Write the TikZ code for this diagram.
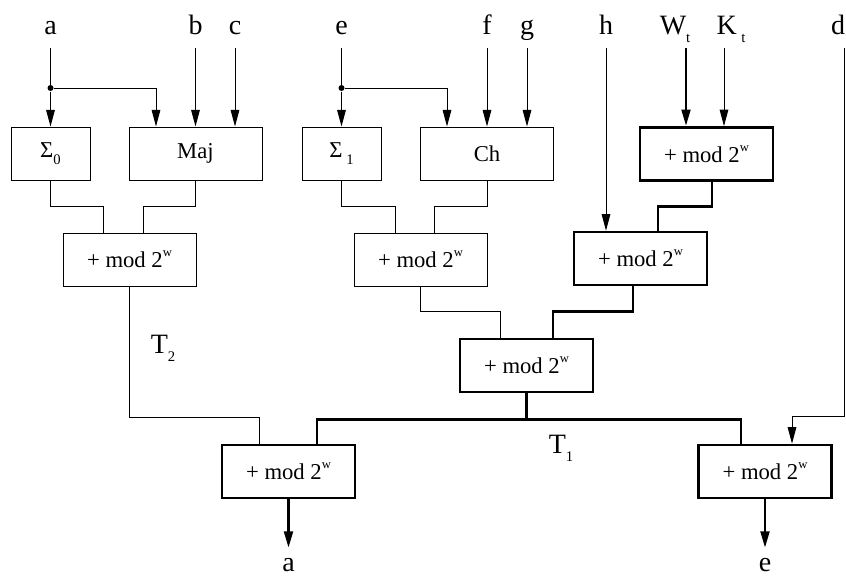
\documentclass[tikz,border=0pt]{standalone}
\usepackage{fontspec}
\setmainfont{Liberation Serif}
\usetikzlibrary{arrows.meta,calc}

\newcommand{\lowsub}[1]{\raisebox{-0.3em}{\fontsize{11}{12}\selectfont #1}}
\newcommand{\modtwo}{+ mod 2\raisebox{0.5em}{\fontsize{9.5}{10}\selectfont w}}

\tikzset{every picture/.style={line width=0.75pt}}

\begin{document}
\begin{tikzpicture}[x=0.75pt,y=0.75pt,yscale=-1,xscale=1,
    box/.style={draw, line width=0.75pt, minimum width=99.75pt, minimum height=39.75pt, inner sep=0pt, font=\fontsize{17}{20}\selectfont},
    sbox/.style={box, minimum width=59.25pt},
    hbox/.style={box, line width=2pt},
    lbl/.style={inner sep=0pt, text depth=9.75pt, anchor=south, font=\fontsize{21}{25}\selectfont},
    olbl/.style={inner sep=0pt, text height=17.5pt, text depth=0pt, anchor=north, font=\fontsize{21}{25}\selectfont},
    tlbl/.style={inner sep=0pt, anchor=base, font=\fontsize{21}{25}\selectfont},
    wire/.style={line width=0.75pt},
    hwire/.style={line width=2.2pt},
    arr/.style={-{Triangle[length=12.5pt,width=6.5pt]}},
    jdot/.style={circle, fill, inner sep=0pt, minimum size=4.5pt}]
        \useasboundingbox (0,0) rectangle (846,578);

        % inputs
        \node[lbl] (ina) at (50.5,48) {a};
        \node[lbl] (inb) at (195.5,48) {b};
        \node[lbl] (inc) at (235,48) {c};
        \node[lbl] (ine) at (341.5,48) {e};
        \node[lbl] (inf) at (487,48) {f};
        \node[lbl] (ing) at (527,48) {g};
        \node[lbl] (inh) at (606,48) {h};
        \node[lbl] (inw) at (675,48) {W\lowsub{t}};
        \node[lbl] (ink) at (731,48) {K\,\lowsub{t}};
        \node[lbl] (ind) at (838,48) {d};

        % boxes
        \node[sbox] (sig0) at (50.5,153.5) {Σ\lowsub{0}};
        \node[box] (maj) at (195.5,153.5) {Maj};
        \node[sbox] (sig1) at (341.5,153.5) {Σ\,\lowsub{1}};
        \node[box] (ch) at (487,153.5) {Ch};
        \node[hbox] (addwk) at (706.5,154) {\modtwo};
        \node[box] (add1) at (129.5,259.5) {\modtwo};
        \node[box] (add2) at (420.5,259.5) {\modtwo};
        \node[hbox] (addh) at (640.5,258.5) {\modtwo};
        \node[hbox] (addt1) at (526.5,365.5) {\modtwo};
        \node[hbox] (adda) at (288.5,471.5) {\modtwo};
        \node[hbox] (adde) at (765,471.5) {\modtwo};

        % outputs and labels
        \node[olbl] (outa) at (288.5,548) {a};
        \node[olbl] (oute) at (765,548) {e};
        \node[tlbl] (t2) at (163,353) {T\lowsub{2}};
        \node[tlbl] (t1) at (561,453) {T\lowsub{1}};

        % junctions
        \node[jdot] (ja) at (50.5,88) {};
        \node[jdot] (je) at (341.5,88) {};

        % input wires
        \draw[wire] (ina) -- (ja);
        \draw[wire,arr] (ja) -- (sig0);
        \draw[wire,arr] (ja) -| ($(maj.north)+(-39.5,0)$);
        \draw[wire,arr] (inb) -- (maj);
        \draw[wire,arr] (inc) -- (inc |- maj.north);
        \draw[wire] (ine) -- (je);
        \draw[wire,arr] (je) -- (sig1);
        \draw[wire,arr] (je) -| ($(ch.north)+(-40,0)$);
        \draw[wire,arr] (inf) -- (ch);
        \draw[wire,arr] (ing) -- (ing |- ch.north);
        \draw[wire,arr] (inh) -- (inh |- addh.north);
        \draw[hwire,arr] ($(inw.south)+(11,0)$) -- ($(addwk.north)+(-20.5,0)$);
        \draw[wire,arr] ($(ink.south)+(-7,0)$) -- ($(addwk.north)+(17.5,0)$);

        % sums
        \draw[wire] (sig0) |- ($(add1.north)+(-26.5,-26)$) -- ++(0,26);
        \draw[wire] (maj) |- ($(add1.north)+(13.5,-26)$) -- ++(0,26);
        \draw[wire] (sig1) |- ($(add2.north)+(-25.5,-26)$) -- ++(0,26);
        \draw[wire] (ch) |- ($(add2.north)+(13.5,-26)$) -- ++(0,26);
        \draw[hwire] ($(addwk.south)+(5.5,0)$) |- ($(addh.north)+(17.5,-24.5)$) -- ++(0,24.5);
        \draw[wire] (add2) |- ($(addt1.north)+(-26.5,-26)$) -- ++(0,26);
        \draw[hwire] ($(addh.south)+(-7.5,0)$) |- ($(addt1.north)+(26.5,-26)$) -- ++(0,26);
        \draw[wire] (add1) |- ($(adda.north)+(-29.5,-26)$) -- ++(0,26);

        % T1 bus
        \draw[hwire] (addt1) -- ($(addt1.south)+(0,26)$) coordinate (bus);
        \draw[hwire] ($(adda.north)+(28.5,0)$) |- (bus) -| ($(adde.north)+(-24,0)$);
        \draw[wire,arr] ($(ind.south)+(6,0)$) |- ($(adde.north)+(27,-27)$) -- ++(0,27);

        % outputs
        \draw[hwire,arr] (adda) -- (outa);
        \draw[hwire,arr] (adde) -- (oute);

\end{tikzpicture}
\end{document}
